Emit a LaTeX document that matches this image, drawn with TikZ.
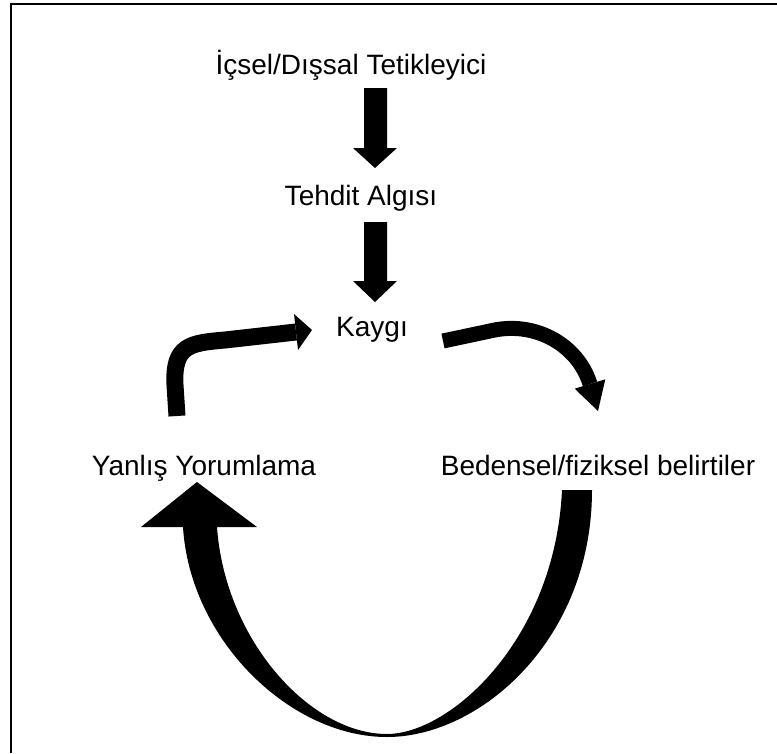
\documentclass[tikz,border=0pt]{standalone}
\usepackage{fontspec}
\setmainfont{Liberation Sans}
\begin{document}
\begin{tikzpicture}[x=1pt,y=-1pt,
  lbl/.style={anchor=base,inner sep=0pt,font=\fontsize{28}{30}\selectfont},
  blk/.style={fill=black,draw=none}]
\useasboundingbox (0,0) rectangle (777,753);
\draw[line width=2pt] (11,753) -- (11,4) -- (777,4);
% labels
\node[lbl] (trig) at (351,74) {İçsel/Dışsal Tetikleyici};
\node[lbl] (threat) at (361,205) {Tehdit Algısı};
\node[lbl] (anx) at (372,336) {Kaygı};
\node[lbl] (mis) at (204,475) {Yanlış Yorumlama};
\node[lbl] (body) at (598,475) {Bedensel/fiziksel belirtiler};
% straight block arrows
\fill[blk] (364,88) -- (387,88) -- (387,148) -- (397,148) -- (375,168) -- (353,148) -- (364,148) -- cycle;
\fill[blk] (364,222) -- (387,222) -- (387,281) -- (397,281) -- (375,302) -- (353,281) -- (364,281) -- cycle;
% left curved arrow (misinterpretation -> anxiety)
\draw[line width=17pt] (177,416) -- (175,385) .. controls (173,345) and (190,343) .. (225,340) -- (296,332);
\fill[blk] (298,350) -- (312,330) -- (294,314) -- cycle;
% right curved arrow (anxiety -> bodily symptoms)
\draw[line width=15pt] (443,341) -- (490,331) .. controls (535,320) and (578,345) .. (590,384);
\fill[blk] (605.3,379.3) -- (598,411) -- (574.7,388.7) -- cycle;
% big U arrow (bodily symptoms -> misinterpretation)
\fill[blk] (592,490) .. controls (592,640) and (480,737) .. (387,737)
  .. controls (290,737) and (190,640) .. (183,527)
  -- (141,527) -- (197,482) -- (257,527) -- (217,527)
  .. controls (225,640) and (310,734) .. (387,734)
  .. controls (450,734) and (555,640) .. (562,490) -- cycle;
\end{tikzpicture}
\end{document}
